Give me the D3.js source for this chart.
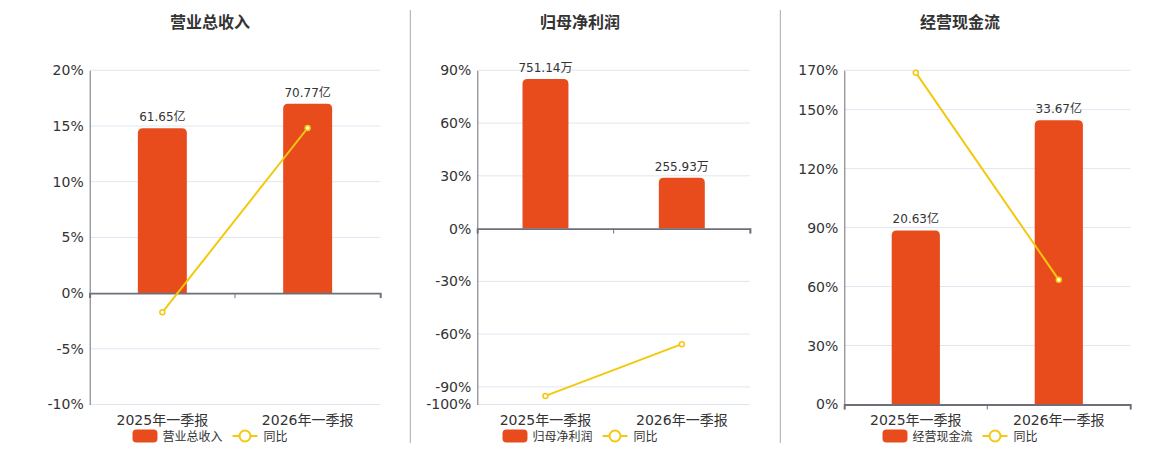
<!DOCTYPE html>
<html>
<head>
<meta charset="utf-8">
<script src="https://cdn.jsdelivr.net/npm/d3@7"></script>
<style>
  body { margin: 0; background: #fff; }
  svg { display: block; font-family: "DejaVu Sans", "Noto Sans CJK SC", sans-serif; }
</style>
</head>
<body>
<svg id="chart" width="1160" height="450"></svg>
<script>
  // Data
  var categories = ["2025年一季报", "2026年一季报"];
  var titles = ["营业总收入", "归母净利润", "经营现金流"];
  var units = ["亿", "万", "亿"];

  var revenue = [61.65, 70.77];
  var netProfit = [751.14, 255.93];
  var cashFlow = [20.63, 33.67];

  var revenueYoy = [-1.73, 14.82];
  var netProfitYoy = [-95.1, -65.7];
  var cashFlowYoy = [168.8, 63.4];

  var revenueTicks = [-10, -5, 0, 5, 10, 15, 20];
  var netProfitTicks = [-100, -90, -60, -30, 0, 30, 60, 90];
  var cashFlowTicks = [0, 30, 60, 90, 120, 150, 170];

  // top of the hidden axis the bars are drawn on
  var barAxisMax = [83.3, 795, 39.6];

  var barValues = [revenue, netProfit, cashFlow];
  var yoyValues = [revenueYoy, netProfitYoy, cashFlowYoy];
  var tickValues = [revenueTicks, netProfitTicks, cashFlowTicks];

  // Layout of the three panels
  var panels = [
    { cx: 210, left: 89.7, right: 380.3 },
    { cx: 580, left: 477.3, right: 750 },
    { cx: 960, left: 844.3, right: 1130.3 }
  ];
  var plotTop = 70.3, plotBottom = 404.5;
  var barColor = "#E84C1D", lineColor = "#F3C80F";
  var gridColor = "#E0E6F1", axisColor = "#6E7079", textColor = "#333";

  var svg = d3.select("#chart");

  // Divider lines between panels
  [410.3, 780.3].forEach(function (x) {
    svg.append("line")
      .attr("x1", x).attr("x2", x).attr("y1", 10).attr("y2", 443)
      .attr("stroke", "#aaa").attr("stroke-width", 1);
  });

  panels.forEach(function (p, i) {
    var g = svg.append("g");
    var ticks = tickValues[i];

    var yScale = d3.scaleLinear()
      .domain(d3.extent(ticks))
      .range([plotBottom, plotTop]);

    var xScale = d3.scaleBand()
      .domain(categories)
      .range([p.left, p.right]);

    var y0 = yScale(0);
    var barScale = d3.scaleLinear()
      .domain([0, barAxisMax[i]])
      .range([y0, plotTop]);

    // Title
    g.append("text")
      .attr("x", p.cx).attr("y", 28)
      .attr("text-anchor", "middle")
      .attr("font-size", 16).attr("font-weight", "bold")
      .attr("fill", textColor)
      .text(titles[i]);

    // Grid lines
    g.selectAll(".grid")
      .data(ticks.filter(function (t) { return t !== 0; }))
      .enter().append("line")
      .attr("x1", p.left).attr("x2", p.right)
      .attr("y1", function (d) { return yScale(d); })
      .attr("y2", function (d) { return yScale(d); })
      .attr("stroke", gridColor).attr("stroke-width", 1);

    // Y axis
    var yAxis = d3.axisLeft(yScale)
      .tickValues(ticks)
      .tickSize(0)
      .tickPadding(6)
      .tickFormat(function (d) { return d + "%"; });
    var ya = g.append("g")
      .attr("transform", "translate(" + p.left + ",0)")
      .call(yAxis);
    ya.select(".domain").attr("stroke", axisColor);
    ya.selectAll("text")
      .attr("font-size", 14).attr("fill", textColor)
      .attr("font-family", "DejaVu Sans, Noto Sans CJK SC, sans-serif");

    // Bars with rounded tops
    g.selectAll(".bar")
      .data(barValues[i])
      .enter().append("path")
      .attr("class", "bar")
      .attr("fill", barColor)
      .attr("d", function (d, j) {
        var bw = xScale.bandwidth() * 0.337;
        var x = xScale(categories[j]) + (xScale.bandwidth() - bw) / 2;
        var top = barScale(d), r = 5;
        return "M" + x + "," + y0 +
          "V" + (top + r) +
          "Q" + x + "," + top + " " + (x + r) + "," + top +
          "H" + (x + bw - r) +
          "Q" + (x + bw) + "," + top + " " + (x + bw) + "," + (top + r) +
          "V" + y0 + "Z";
      });

    // Bar value labels
    g.selectAll(".bar-label")
      .data(barValues[i])
      .enter().append("text")
      .attr("x", function (d, j) { return xScale(categories[j]) + xScale.bandwidth() / 2; })
      .attr("y", function (d) { return barScale(d) - 7; })
      .attr("text-anchor", "middle")
      .attr("font-size", 12).attr("fill", textColor)
      .text(function (d) { return d.toFixed(2) + units[i]; });

    // X axis at zero
    var xAxis = d3.axisBottom(xScale).tickSize(5).tickFormat("");
    var xa = g.append("g")
      .attr("transform", "translate(0," + y0 + ")")
      .call(xAxis);
    xa.select(".domain").attr("stroke", axisColor).attr("stroke-width", 1.8);
    xa.selectAll(".tick").remove();
    var edges = [p.left].concat(categories.map(function (c) { return xScale(c) + xScale.bandwidth(); }));
    xa.selectAll(".edge")
      .data(edges)
      .enter().append("line")
      .attr("x1", function (d) { return d; }).attr("x2", function (d) { return d; })
      .attr("y1", 0).attr("y2", 5)
      .attr("stroke", axisColor);

    // Category labels at bottom
    g.selectAll(".cat")
      .data(categories)
      .enter().append("text")
      .attr("x", function (d) { return xScale(d) + xScale.bandwidth() / 2; })
      .attr("y", 425)
      .attr("text-anchor", "middle")
      .attr("font-size", 14).attr("fill", textColor)
      .text(function (d) { return d; });

    // YoY line
    var line = d3.line()
      .x(function (d, j) { return xScale(categories[j]) + xScale.bandwidth() / 2; })
      .y(function (d) { return yScale(d); });
    g.append("path")
      .datum(yoyValues[i])
      .attr("d", line)
      .attr("fill", "none")
      .attr("stroke", lineColor).attr("stroke-width", 2);
    g.selectAll(".pt")
      .data(yoyValues[i])
      .enter().append("circle")
      .attr("cx", function (d, j) { return xScale(categories[j]) + xScale.bandwidth() / 2; })
      .attr("cy", function (d) { return yScale(d); })
      .attr("r", 2.5)
      .attr("fill", "#fff")
      .attr("stroke", lineColor).attr("stroke-width", 1.5);

    // Legend centred on the panel
    var lg = g.append("g");
    lg.append("rect")
      .attr("x", 0).attr("y", 429.5).attr("width", 25).attr("height", 13)
      .attr("rx", 4).attr("fill", barColor);
    var t1 = lg.append("text")
      .attr("x", 30).attr("y", 440.5)
      .attr("font-size", 12).attr("fill", textColor)
      .text(titles[i]);
    var lx = 30 + t1.node().getComputedTextLength() + 10;
    lg.append("line")
      .attr("x1", lx).attr("x2", lx + 25).attr("y1", 436).attr("y2", 436)
      .attr("stroke", lineColor).attr("stroke-width", 2);
    lg.append("circle")
      .attr("cx", lx + 12.5).attr("cy", 436).attr("r", 5.5)
      .attr("fill", "#fff").attr("stroke", lineColor).attr("stroke-width", 2);
    var t2 = lg.append("text")
      .attr("x", lx + 31).attr("y", 440.5)
      .attr("font-size", 12).attr("fill", textColor)
      .text("同比");
    var total = lx + 31 + t2.node().getComputedTextLength();
    lg.attr("transform", "translate(" + (p.cx - total / 2) + ",0)");
  });
</script>
</body>
</html>
